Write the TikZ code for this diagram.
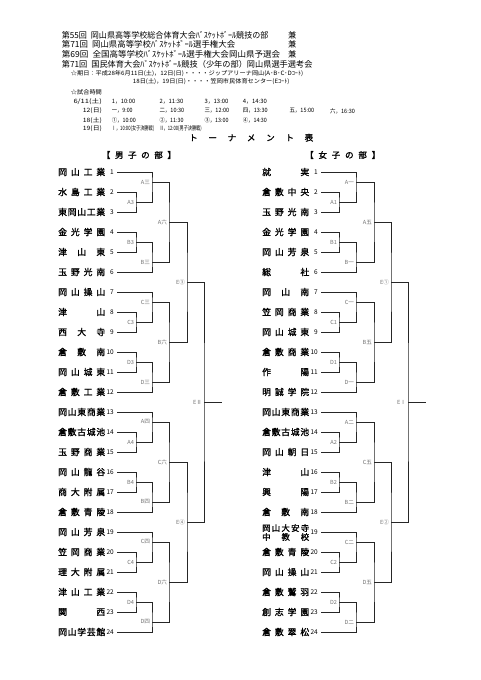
\documentclass[tikz,border=0pt]{standalone}
\usepackage{graphicx}
\usepackage{fontspec}
\setmainfont{Noto Sans CJK JP}[AutoFakeBold=1.5]
\makeatletter
\newcommand\spr[2][47pt]{\makebox[#1][s]{\let\spsep\relax\@tfor\spc:=#2\do{\spsep\spc\let\spsep\hfill}}}
\makeatother
\newcommand\fw[2]{\resizebox{#1pt}{\height}{#2}}
\tikzset{
  br/.style={line width=0.85pt, draw=black!85},
  lab/.style={anchor=east, xshift=-1.8pt, inner sep=0pt, font=\fontsize{5.6}{6}\selectfont, text=black!55},
  num/.style={anchor=east, inner sep=0pt, font=\fontsize{6.5}{7}\selectfont},
  team/.style={anchor=west, inner sep=0pt, font=\fontsize{8.8}{9}\selectfont\bfseries},
  hdr/.style={anchor=west, inner sep=0pt, font=\fontsize{8.3}{9}\selectfont},
  sm/.style={anchor=west, inner sep=0pt, font=\fontsize{5.9}{6.5}\selectfont},
  ttl/.style={anchor=west, inner sep=0pt, font=\fontsize{8.5}{9}\selectfont\bfseries},
}
% block of six teams: #1 prefix, #2 top y, #3..#7 match labels
\newcommand\blk[7]{%
  \coordinate (#1t1) at (\Xs,#2);
  \coordinate (#1t2) at (\Xs,#2+20);
  \coordinate (#1t3) at (\Xs,#2+40);
  \coordinate (#1t4) at (\Xs,#2+60);
  \coordinate (#1t5) at (\Xs,#2+80);
  \coordinate (#1t6) at (\Xs,#2+100);
  \coordinate (#1a) at (\Xa,#2+30);
  \coordinate (#1b) at (\Xb,#2+10);
  \coordinate (#1c) at (\Xa,#2+70);
  \coordinate (#1d) at (\Xb,#2+90);
  \coordinate (#1e) at (\Xc,#2+50);
  \draw[br] (#1t2) -| (#1a) |- (#1t3);
  \draw[br] (#1t1) -| (#1b) |- (#1a);
  \draw[br] (#1t4) -| (#1c) |- (#1t5);
  \draw[br] (#1t6) -| (#1d) |- (#1c);
  \draw[br] (#1b) -| (#1e) |- (#1d);
  \node[lab] (#1la) at (#1a) {#3};
  \node[lab] (#1lb) at (#1b) {#4};
  \node[lab] (#1lc) at (#1c) {#5};
  \node[lab] (#1ld) at (#1d) {#6};
  \node[lab] (#1le) at (#1e) {#7};
}
\begin{document}
\begin{tikzpicture}[x=1pt,y=-1pt]
\useasboundingbox (0,0) rectangle (481,680);
\fill[white] (0,0) rectangle (481,680);

% ---------- header ----------
\node[hdr] (h1) at (61.7,35) {\fw{206.6}{第55回\hspace{4pt}岡山県高等学校総合体育大会ﾊﾞｽｹｯﾄﾎﾞｰﾙ競技の部}};
\node[hdr] (k1) at (288,35) {兼};
\node[hdr] (h2) at (61.7,44.7) {\fw{173.3}{第71回\hspace{4pt}岡山県高等学校ﾊﾞｽｹｯﾄﾎﾞｰﾙ選手権大会}};
\node[hdr] (k2) at (288,44.7) {兼};
\node[hdr] (h3) at (61.7,54.3) {\fw{218.3}{第69回\hspace{4pt}全国高等学校ﾊﾞｽｹｯﾄﾎﾞｰﾙ選手権大会岡山県予選会}};
\node[hdr] (k3) at (288,54.3) {兼};
\node[hdr] (h4) at (61.7,64) {\fw{250.6}{第71回\hspace{4pt}国民体育大会ﾊﾞｽｹｯﾄﾎﾞｰﾙ競技（少年の部）岡山県選手選考会}};

\node[sm] (d1) at (70.7,73.3) {\fw{232.3}{☆期日：平成28年6月11日(土)，12日(日)・・・・ジップアリーナ岡山(A･B･C･Dｺｰﾄ)}};
\node[sm] (d2) at (132.7,81.7) {\fw{156.6}{18日(土)，19日(日)・・・・笠岡市民体育センター(Eｺｰﾄ)}};
\node[sm] (s0) at (70.7,92.3) {\fw{31}{☆試合時間}};

\node[sm] (r1) at (73.3,101.7) {\fw{28.4}{6/11(土)}};
\node[sm] (r1a) at (111.7,101.7) {\fw{23.3}{1，10:00}};
\node[sm] (r1b) at (159.3,101.7) {\fw{24}{2，11:30}};
\node[sm] (r1c) at (204.3,101.7) {\fw{24}{3，13:00}};
\node[sm] (r1d) at (242.7,101.7) {\fw{24}{4，14:30}};

\node[sm] (r2) at (82.7,111) {\fw{19}{12(日)}};
\node[sm] (r2a) at (111.7,111) {\fw{20.7}{一，9:00}};
\node[sm] (r2b) at (159.3,111) {\fw{24.7}{二，10:30}};
\node[sm] (r2c) at (204.3,111) {\fw{24.7}{三，12:00}};
\node[sm] (r2d) at (242.7,111) {\fw{24.7}{四，13:30}};
\node[sm] (r2e) at (289.3,111) {\fw{24.7}{五，15:00}};
\node[sm] (r2f) at (330,111) {\fw{24.7}{六，16:30}};

\node[sm] (r3) at (82.7,120.3) {\fw{19}{18(土)}};
\node[sm] (r3a) at (111.7,120.3) {\fw{24}{①，10:00}};
\node[sm] (r3b) at (159.3,120.3) {\fw{24}{②，11:30}};
\node[sm] (r3c) at (204.3,120.3) {\fw{24}{③，13:00}};
\node[sm] (r3d) at (242.7,120.3) {\fw{24}{④，14:30}};

\node[sm] (r4) at (82.7,129) {\fw{19}{19(日)}};
\node[sm] (r4a) at (111.7,129) {\fw{42.3}{Ⅰ，10:00(女子決勝戦)}};
\node[sm] (r4b) at (159.3,129) {\fw{42.3}{Ⅱ，12:00(男子決勝戦)}};

\node[ttl] (title) at (189,137.7) {\makebox[124pt][s]{ト\hfill ー\hfill ナ\hfill メ\hfill ン\hfill ト\hfill 表}};
\node[ttl] (mhead) at (101.7,155) {\makebox[74pt][s]{【\hfill 男\hfill 子\hfill の\hfill 部\hfill 】}};
\node[ttl] (whead) at (305,155) {\makebox[75pt][s]{【\hfill 女\hfill 子\hfill の\hfill 部\hfill 】}};

% ---------- teams ----------
\foreach \t [count=\i] in {岡山工業,水島工業,東岡山工業,金光学園,津山東,玉野光南,岡山操山,津山,西大寺,倉敷南,岡山城東,倉敷工業,岡山東商業,倉敷古城池,玉野商業,岡山龍谷,商大附属,倉敷青陵,岡山芳泉,笠岡商業,理大附属,津山工業,関西,岡山学芸館}{
  \node[team] (mn\i) at (58,{172+20*(\i-1)}) {\expandafter\spr\expandafter{\t}};
  \node[num] (mk\i) at (114,{172+20*(\i-1)}) {\i};
}
\foreach \t [count=\i] in {就実,倉敷中央,玉野光南,金光学園,岡山芳泉,総社,岡山南,笠岡商業,岡山城東,倉敷商業,作陽,明誠学院,岡山東商業,倉敷古城池,岡山朝日,津山,興陽,倉敷南,X,倉敷青陵,岡山操山,倉敷鷲羽,創志学園,倉敷翠松}{
  \ifnum\i=19\relax\else
  \node[team] (wn\i) at (262,{172+20*(\i-1)}) {\expandafter\spr\expandafter{\t}};
  \fi
  \node[num] (wk\i) at (318,{172+20*(\i-1)}) {\i};
}
\node[team, align=left, font=\fontsize{8.4}{8.9}\selectfont\bfseries] (wn19) at (262,532.5) {\spr{岡山大安寺}\\\spr{中教校}};

% ---------- men's bracket ----------
\def\Xs{117}\def\Xa{136}\def\Xb{152}\def\Xc{169}\def\Xd{187}\def\Xe{204}\def\Xf{222}
\blk{m1}{172}{A3}{A三}{B3}{B三}{A六}
\blk{m2}{292}{C3}{C三}{D3}{D三}{B六}
\blk{m3}{412}{A4}{A四}{B4}{B四}{C六}
\blk{m4}{532}{C4}{C四}{D4}{D四}{D六}
\coordinate (mS1) at (\Xd,282);
\coordinate (mS2) at (\Xd,522);
\coordinate (mF) at (\Xe,402);
\coordinate (mEnd) at (\Xf,402);
\draw[br] (m1e) -| (mS1) |- (m2e);
\draw[br] (m3e) -| (mS2) |- (m4e);
\draw[br] (mS1) -| (mF) |- (mS2);
\draw[br] (mF) -- (mEnd);
\node[lab] (mlS1) at (mS1) {E③};
\node[lab] (mlS2) at (mS2) {E④};
\node[lab] (mlF) at (mF) {EⅡ};

% ---------- women's bracket ----------
\def\Xs{321}\def\Xa{339}\def\Xb{356}\def\Xc{374}\def\Xd{391}\def\Xe{408}\def\Xf{426}
\blk{w1}{172}{A1}{A一}{B1}{B一}{A五}
\blk{w2}{292}{C1}{C一}{D1}{D一}{B五}
\blk{w3}{412}{A2}{A二}{B2}{B二}{C五}
\blk{w4}{532}{C2}{C二}{D2}{D二}{D五}
\coordinate (wS1) at (\Xd,282);
\coordinate (wS2) at (\Xd,522);
\coordinate (wF) at (\Xe,402);
\coordinate (wEnd) at (\Xf,402);
\draw[br] (w1e) -| (wS1) |- (w2e);
\draw[br] (w3e) -| (wS2) |- (w4e);
\draw[br] (wS1) -| (wF) |- (wS2);
\draw[br] (wF) -- (wEnd);
\node[lab] (wlS1) at (wS1) {E①};
\node[lab] (wlS2) at (wS2) {E②};
\node[lab] (wlF) at (wF) {EⅠ};
\end{tikzpicture}
\end{document}
